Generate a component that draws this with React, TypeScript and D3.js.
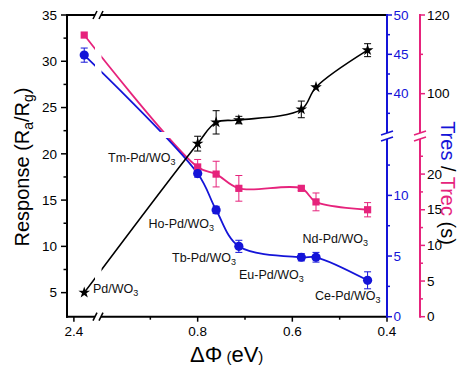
import * as d3 from 'd3';

const SAMPLES = ['Pd/WO', 'Tm-Pd/WO', 'Ho-Pd/WO', 'Tb-Pd/WO', 'Eu-Pd/WO', 'Nd-Pd/WO', 'Ce-Pd/WO'];
const DELTA_PHI = [2.37, 0.8, 0.761, 0.713, 0.581, 0.55, 0.441];
const RESPONSE = [5.0, 21.1, 23.4, 23.65, 24.8, 27.2, 31.2];
const RESPONSE_ERR = [0, 0.8, 1.26, 0.4, 0.9, 0, 0.7];
const T_RES = [44.9, 11.8, 8.8, 5.8, 4.9, 4.9, 3.0];
const T_RES_ERR = [0.9, 0.3, 0.3, 0.5, 0.3, 0.4, 0.7];
const T_REC = [114.9, 21.0, 20.0, 18.0, 18.0, 16.1, 15.0];
const T_REC_ERR = [0, 1.05, 1.8, 1.8, 0.3, 1.25, 1.0];

const X_MAJOR = [0.8, 0.6, 0.4];
const X_MINOR = [0.9, 0.7, 0.5];
const LEFT_MAJOR = [35, 30, 25, 20, 15, 10, 5];
const LEFT_MINOR = [32.5, 27.5, 22.5, 17.5, 12.5, 7.5];
const RES_MAJOR = [50, 45, 40, 10, 5, 0];
const RES_MINOR = [47.5, 42.5, 37.5, 12.5, 7.5, 2.5];
const REC_MAJOR = [120, 100, 20, 15, 10, 5, 0];
const REC_MINOR = [110, 22.5, 17.5, 12.5, 7.5, 2.5];

// label anchor (px) for each sample name
const LABEL_POS: [number, number][] = [
  [93, 293], [108, 162], [148.5, 228], [172, 262], [239, 279], [302.5, 243], [315, 300],
];

const W = 460;
const H = 368;
const L = 67, R = 387, T = 15, B = 316.7;
const R2 = 420;
const YBRK = 136;
const XBRK = 98;
const BLUE = '#1414d8';
const PINK = '#e6237c';
const FONT = '"Liberation Sans", Arial, sans-serif';

const xLeft = d3.scaleLinear().domain([2.42, 2.33]).range([L, XBRK]);
const xRight = d3.scaleLinear().domain([1.0, 0.4]).range([103, R]);
const xPos = (v: number) => (v > 1.5 ? xLeft(v) : xRight(v));

const yResp = d3.scaleLinear().domain([2.4, 35]).range([B, T]);
const resLow = d3.scaleLinear().domain([0, 14.5]).range([B, 140.8]);
const resUp = d3.scaleLinear().domain([35, 50]).range([133, T]);
const yRes = (v: number) => (v >= 30 ? resUp(v) : resLow(v));
const recLow = d3.scaleLinear().domain([0, 24.5]).range([B, 142]);
const recUp = d3.scaleLinear().domain([90, 120]).range([133, T]);
const yRec = (v: number) => (v >= 60 ? recUp(v) : recLow(v));

const curve = d3.line<[number, number]>().curve(d3.curveCatmullRom.alpha(0.5));

function ErrBars({ vals, errs, y, color }: { vals: number[]; errs: number[]; y: (v: number) => number; color: string }) {
  return (
    <g stroke={color} strokeWidth={1}>
      {vals.map((v, i) => {
        if (!errs[i]) return null;
        const x = xPos(DELTA_PHI[i]);
        const y1 = y(v - errs[i]);
        const y2 = y(v + errs[i]);
        return (
          <g key={i}>
            <line x1={x} x2={x} y1={y1} y2={y2} />
            <line x1={x - 3.5} x2={x + 3.5} y1={y1} y2={y1} />
            <line x1={x - 3.5} x2={x + 3.5} y1={y2} y2={y2} />
          </g>
        );
      })}
    </g>
  );
}

function VBreak({ x, color }: { x: number; color: string }) {
  return (
    <g>
      <rect x={x - 3} y={YBRK - 3} width={6} height={6} fill="#fff" />
      <line x1={x - 6} y1={YBRK - 1} x2={x + 6} y2={YBRK - 5} stroke={color} strokeWidth={1.5} />
      <line x1={x - 6} y1={YBRK + 5} x2={x + 6} y2={YBRK + 1} stroke={color} strokeWidth={1.5} />
    </g>
  );
}

function HBreak({ y }: { y: number }) {
  return (
    <g>
      <rect x={XBRK - 3} y={y - 3} width={6} height={6} fill="#fff" />
      <line x1={XBRK - 5} y1={y + 4} x2={XBRK - 1} y2={y - 4} stroke="#000" strokeWidth={1.5} />
      <line x1={XBRK + 1} y1={y + 4} x2={XBRK + 5} y2={y - 4} stroke="#000" strokeWidth={1.5} />
    </g>
  );
}

export default function App() {
  const respPts = DELTA_PHI.map((d, i) => [xPos(d), yResp(RESPONSE[i])] as [number, number]);
  const resPts = DELTA_PHI.map((d, i) => [xPos(d), yRes(T_RES[i])] as [number, number]);
  const recPts = DELTA_PHI.map((d, i) => [xPos(d), yRec(T_REC[i])] as [number, number]);
  const star = d3.symbol(d3.symbolStar, 42)()!;

  return (
    <svg width={W} height={H} style={{ position: 'absolute', left: 0, top: 0, background: '#fff' }} fontFamily={FONT}>
      <defs>
        <mask id="gapX">
          <rect x={0} y={0} width={W} height={H} fill="#fff" />
          <rect x={95} y={0} width={6.5} height={H} fill="#000" />
        </mask>
        <mask id="gapXY">
          <rect x={0} y={0} width={W} height={H} fill="#fff" />
          <rect x={95} y={0} width={6.5} height={H} fill="#000" />
          <rect x={0} y={132} width={W} height={6} fill="#000" />
        </mask>
      </defs>

      {/* curves */}
      <path d={curve(recPts)!} fill="none" stroke={PINK} strokeWidth={1.8} mask="url(#gapXY)" />
      <path d={curve(resPts)!} fill="none" stroke={BLUE} strokeWidth={1.8} mask="url(#gapXY)" />
      <path d={curve(respPts)!} fill="none" stroke="#000" strokeWidth={1.6} mask="url(#gapX)" />

      <ErrBars vals={T_REC} errs={T_REC_ERR} y={yRec} color={PINK} />
      <ErrBars vals={T_RES} errs={T_RES_ERR} y={yRes} color={BLUE} />
      <ErrBars vals={RESPONSE} errs={RESPONSE_ERR} y={yResp} color="#000" />

      {recPts.map(([x, y], i) => (
        <rect key={'q' + i} x={x - 3.6} y={y - 3.6} width={7.2} height={7.2} fill={PINK} />
      ))}
      {resPts.map(([x, y], i) => (
        <circle key={'c' + i} cx={x} cy={y} r={4.6} fill={BLUE} />
      ))}
      {respPts.map(([x, y], i) => (
        <path key={'s' + i} d={star} transform={`translate(${x},${y})`} fill="#000" />
      ))}

      {/* sample labels */}
      {SAMPLES.map((s, i) => (
        <text key={s} x={LABEL_POS[i][0]} y={LABEL_POS[i][1]} fontSize={12.5} fill="#111">
          {s}
          <tspan dy={3} fontSize={9}>3</tspan>
        </text>
      ))}

      {/* frame */}
      <g stroke="#000" strokeWidth={2} fill="none">
        <line x1={L} x2={L} y1={T - 1} y2={B + 1} />
        <line x1={L - 1} x2={R} y1={T} y2={T} />
        <line x1={L - 1} x2={R} y1={B} y2={B} />
      </g>
      <HBreak y={T} />
      <HBreak y={B} />

      {/* left axis */}
      {LEFT_MAJOR.map(v => (
        <g key={'lm' + v}>
          <line x1={L - 6} x2={L} y1={yResp(v)} y2={yResp(v)} stroke="#000" strokeWidth={1.5} />
          <text x={57} y={yResp(v)} dy="0.35em" textAnchor="end" fontSize={13.5}>{v}</text>
        </g>
      ))}
      {LEFT_MINOR.map(v => (
        <line key={'ln' + v} x1={L - 3.5} x2={L} y1={yResp(v)} y2={yResp(v)} stroke="#000" strokeWidth={1.5} />
      ))}

      {/* bottom axis */}
      <line x1={xLeft(2.4)} x2={xLeft(2.4)} y1={B} y2={B + 5} stroke="#000" strokeWidth={1.5} />
      <text x={xLeft(2.4)} y={335.5} textAnchor="middle" fontSize={13.5}>2.4</text>
      {X_MAJOR.map(v => (
        <g key={'xm' + v}>
          <line x1={xRight(v)} x2={xRight(v)} y1={B} y2={B + 5} stroke="#000" strokeWidth={1.5} />
          <text x={xRight(v)} y={335.5} textAnchor="middle" fontSize={13.5}>{v.toFixed(1)}</text>
        </g>
      ))}
      {X_MINOR.map(v => (
        <line key={'xn' + v} x1={xRight(v)} x2={xRight(v)} y1={B} y2={B + 3} stroke="#000" strokeWidth={1.5} />
      ))}

      {/* blue axis */}
      <line x1={R} x2={R} y1={T - 1} y2={B + 1} stroke={BLUE} strokeWidth={2} />
      {RES_MAJOR.map(v => (
        <g key={'rm' + v}>
          <line x1={R} x2={R + 5} y1={yRes(v)} y2={yRes(v)} stroke={BLUE} strokeWidth={1.5} />
          <text x={393.5} y={yRes(v)} dy="0.35em" fontSize={13.5} fill={BLUE}>{v}</text>
        </g>
      ))}
      {RES_MINOR.map(v => (
        <line key={'rn' + v} x1={R} x2={R + 3} y1={yRes(v)} y2={yRes(v)} stroke={BLUE} strokeWidth={1.5} />
      ))}
      <VBreak x={R} color={BLUE} />

      {/* pink axis */}
      <line x1={R2} x2={R2} y1={T - 1} y2={B + 1} stroke={PINK} strokeWidth={2} />
      {REC_MAJOR.map(v => (
        <g key={'pm' + v}>
          <line x1={R2} x2={R2 + 5} y1={yRec(v)} y2={yRec(v)} stroke={PINK} strokeWidth={1.5} />
          <text x={427} y={yRec(v)} dy="0.35em" fontSize={13.5} fill="#000">{v}</text>
        </g>
      ))}
      {REC_MINOR.map(v => (
        <line key={'pn' + v} x1={R2} x2={R2 + 3} y1={yRec(v)} y2={yRec(v)} stroke={PINK} strokeWidth={1.5} />
      ))}
      <VBreak x={R2} color={PINK} />

      {/* axis titles */}
      <text transform="translate(29,167) rotate(-90)" textAnchor="middle" fontSize={20}>
        Response (R<tspan dy={4} fontSize={14}>a</tspan><tspan dy={-4}>/R</tspan>
        <tspan dy={4} fontSize={14}>g</tspan><tspan dy={-4}>)</tspan>
      </text>
      <text transform="translate(441,183) rotate(90)" textAnchor="middle" fontSize={20}>
        <tspan fill={BLUE}>Tres</tspan> / <tspan fill={PINK}>Trec</tspan> (s)
      </text>
      <text x={190} y={362} fontSize={22}>
        ΔΦ<tspan fontSize={15}> (</tspan>eV<tspan fontSize={15}>)</tspan>
      </text>
    </svg>
  );
}
